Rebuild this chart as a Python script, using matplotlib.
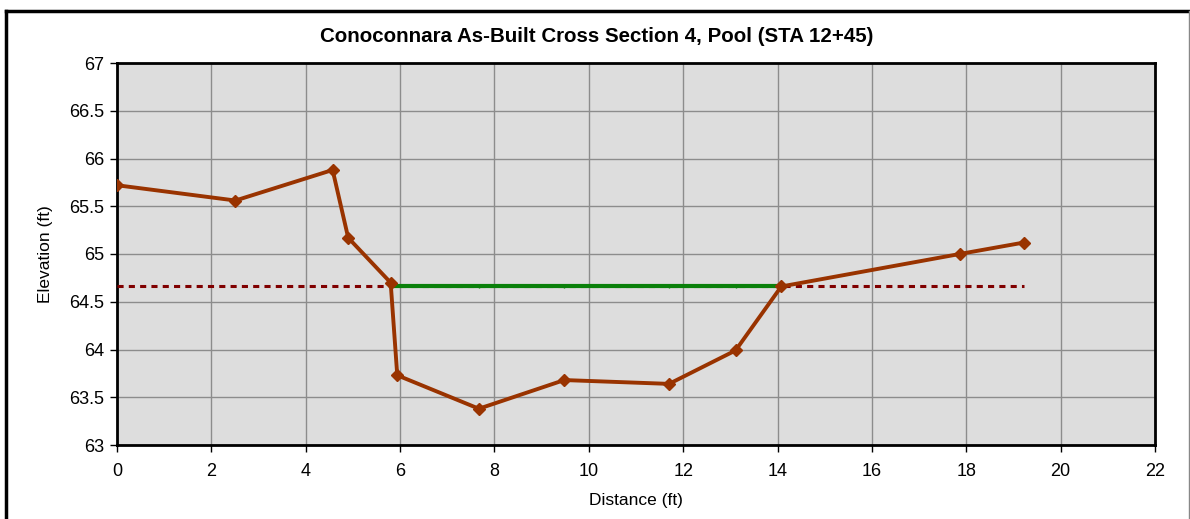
import matplotlib
matplotlib.use("Agg")
import matplotlib.pyplot as plt
from matplotlib.lines import Line2D

plt.rcParams['font.family'] = ['Liberation Sans', 'DejaVu Sans']

# as-built ground profile
distance = [0.0, 2.51, 4.57, 4.90, 5.80, 5.94, 7.67, 9.48, 11.70, 13.11, 14.08, 17.86, 19.22]
elevation = [65.72, 65.56, 65.88, 65.17, 64.70, 63.73, 63.38, 63.68, 63.64, 63.99, 64.66, 65.00, 65.12]

# water surface
water_x = [5.81, 7.67, 9.48, 11.70, 13.11, 14.08]
water_y = [64.66, 64.66, 64.66, 64.66, 64.66, 64.66]

# bankfull line
bankfull_x = [0.0, 19.22]
bankfull_y = [64.66, 64.66]

xticks = list(range(0, 23, 2))
yticks = [63, 63.5, 64, 64.5, 65, 65.5, 66, 66.5, 67]
ytick_labels = ["63", "63.5", "64", "64.5", "65", "65.5", "66", "66.5", "67"]

fig = plt.figure(figsize=(11.9, 5.19), dpi=100)
ax = fig.add_axes([117 / 1190, 1 - 445 / 519, (1155 - 117) / 1190, (445 - 63) / 519])
ax.set_facecolor("#DDDDDD")

ax.plot(bankfull_x, bankfull_y, color="#800000", lw=2.2, linestyle=(0, (2, 1.7)), zorder=3)
ax.plot(water_x, water_y, color="#0A800A", lw=3, marker="|", markersize=3, zorder=4)
ax.plot(distance, elevation, color="#993300", lw=2.8, marker="D", markersize=6, zorder=5)

ax.set_xlim(0, 22)
ax.set_ylim(63, 67)
ax.set_xticks(xticks)
ax.set_yticks(yticks)
ax.set_yticklabels(ytick_labels)
ax.grid(True, color="#8C8C8C", lw=1)
ax.set_axisbelow(True)
ax.tick_params(labelsize=13, direction="out", length=5, width=1)
ax.tick_params(axis="x", pad=8)
ax.tick_params(axis="y", pad=4)

for s in ax.spines.values():
    s.set_linewidth(2)
    s.set_color("black")

fig.text(597 / 1190, 1 - 37 / 519, "Conoconnara As-Built Cross Section 4, Pool (STA 12+45)",
         fontsize=14.8, fontweight="bold", ha="center", va="center")
ax.set_xlabel("Distance (ft)", fontsize=12.5, labelpad=9)
ax.set_ylabel("Elevation (ft)", fontsize=12.5, labelpad=12)

# chart-area frame
fig.add_artist(Line2D([6 / 1190, 6 / 1190], [0, 1 - 11 / 519], color="black", lw=2.5))
fig.add_artist(Line2D([6 / 1190, 1189 / 1190], [1 - 11 / 519, 1 - 11 / 519], color="black", lw=2.5))
fig.add_artist(Line2D([1188.5 / 1190, 1188.5 / 1190], [0, 1 - 11 / 519], color="#888888", lw=1))

fig.savefig("out.png", dpi=100)
